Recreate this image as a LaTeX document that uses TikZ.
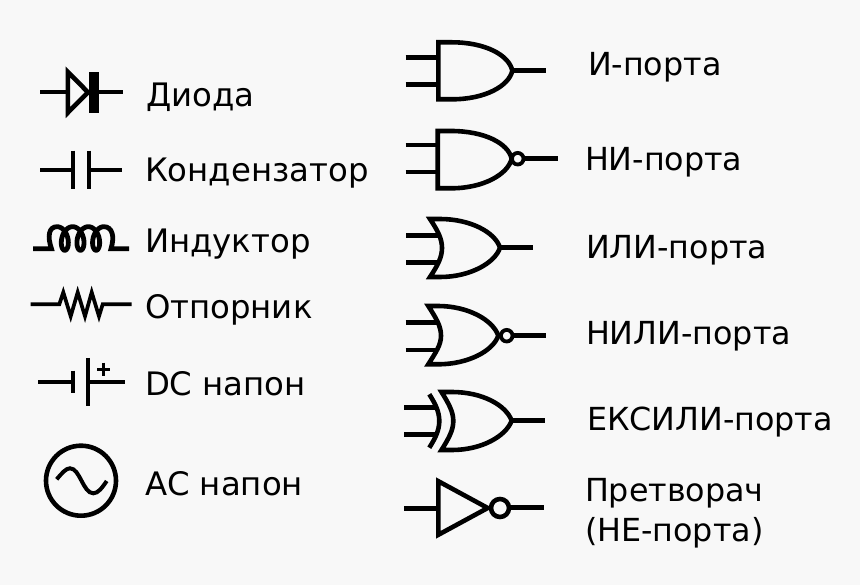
\documentclass[tikz,border=0pt]{standalone}
\usepackage{fontspec}
\setmainfont{DejaVu Sans}
\definecolor{bgc}{HTML}{F8F8F8}
\tikzset{
  x=1pt,y=-1pt,
  sym/.style={draw=black,line width=4.6pt,line join=miter,miter limit=20,fill=none},
  lab/.style={anchor=base west,inner sep=0pt,outer sep=0pt,font=\fontsize{32.35}{38}\selectfont,text=black},
  rab/.style={anchor=base west,inner sep=0pt,outer sep=0pt,font=\fontsize{31.75}{38}\selectfont,text=black},
}
\begin{document}
\begin{tikzpicture}
\fill[bgc] (0,0) rectangle (860,585);
\useasboundingbox (0,0) rectangle (860,585);
% labels
\node[lab] (l1) at (146,107) {Диода};
\node[lab] (l2) at (145,182) {Кондензатор};
\node[lab] (l3) at (145,253) {Индуктор};
\node[lab] (l4) at (145,319) {Отпорник};
\node[lab] (l5) at (145,395.5) {DC напон};
\node[lab] (l6) at (145,495) {АС напон};
\node[rab] (r1) at (588,75.5) {И-порта};
\node[rab] (r2) at (585,171) {НИ-порта};
\node[rab] (r3) at (586,258.5) {ИЛИ-порта};
\node[rab] (r4) at (586,345) {НИЛИ-порта};
\node[rab] (r5) at (587,431) {ЕКСИЛИ-порта};
\node[rab] (r6) at (585,501) {Претворач};
\node[rab] (r7) at (585,541) {(НЕ-порта)};
% diode
\draw[sym,line width=4.2pt] (40,92.3) -- (123.3,92.3);
\fill[bgc] (67.9,72) -- (67.9,112.6) -- (88,92.3) -- cycle;
\draw[sym] (67.9,72) -- (67.9,112.6) -- (88,92.3) -- cycle;
\fill[black] (89,72.3) rectangle (99,112.7);
% capacitor
\draw[sym,line width=4.2pt] (40,170) -- (72.7,170) (72.7,150.7) -- (72.7,189.3) (89.3,150.7) -- (89.3,189.3) (89.3,170) -- (121.7,170);
% inductor
\draw[sym,line width=4.8pt] (33,248.7) -- (51.5,248.7) .. controls (47,236) and (49,226.7) .. (57,226.7)
  -- plot[variable=\t,domain=0:1080,samples=130] ({57+\t/360*15.65+7*sin(\t)},{238.5-11.8*cos(\t)})
  .. controls (112,226.7) and (115,236) .. (111,248.7) -- (129,248.7);
% resistor
\draw[sym,line width=3.7pt] (30.7,304.3) -- (59.3,304.3) -- (63.3,292.3) -- (70.7,316.3) -- (77.7,292.3) -- (85,316.3) -- (91.7,292.3) -- (99,316.3) -- (102.7,304.3) -- (131.7,304.3);
% DC
\draw[sym,line width=4.2pt] (38.3,381.7) -- (73.3,381.7) (73.3,370.7) -- (73.3,393.3) (88,358) -- (88,406) (88,381.7) -- (125.3,381.7);
\draw[draw=black,line width=2.6pt] (97,369.3) -- (110.4,369.3) (103.7,362.6) -- (103.7,376);
% AC
\draw[sym] (81,480.7) circle[radius=35];
\draw[sym,line width=4pt] (56.7,479.3) .. controls (62,473) and (66,468.3) .. (70,468.3) .. controls (80,468.3) and (83,493.3) .. (93.3,493.3) .. controls (98,493.3) and (102,488) .. (106.7,481);
% AND
\draw[sym] (405.7,57.3) -- (438.3,57.3) (405.7,84.3) -- (438.3,84.3) (512.3,70.7) -- (546,70.7);
\draw[sym] (438.3,42.3) -- (452,42.3) .. controls (485,42.3) and (509,55) .. (512.3,70.7) .. controls (509,86) and (485,99.3) .. (452,99.3) -- (438.3,99.3) -- cycle;
% NAND
\draw[sym] (405.7,145) -- (437.7,145) (405.7,172) -- (437.7,172) (523.5,158.7) -- (557.7,158.7);
\draw[sym] (437.7,131) -- (451,131) .. controls (484,131) and (508,143) .. (511.7,158.7) .. controls (508,174) and (484,188.3) .. (451,188.3) -- (437.7,188.3) -- cycle;
\draw[sym,line width=3.8pt] (517.7,158.7) circle[radius=5.8];
% OR
\draw[sym] (406.3,235.7) -- (438,235.7) (406.3,262.7) -- (438,262.7) (500,247.7) -- (532.7,247.7);
\draw[sym] (430,219) -- (440,219) .. controls (470,219) and (495,232) .. (500,247.7) .. controls (495,263) and (470,277) .. (440,277) -- (430,277) .. controls (438,265) and (442,257) .. (442,248) .. controls (442,239) and (438,231) .. (430,219) -- cycle;
% NOR
\draw[sym] (405.7,322.7) -- (437.7,322.7) (405.7,350) -- (437.7,350) (512.7,335.7) -- (546,335.7);
\draw[sym] (428.3,306) -- (438,306) .. controls (468,306) and (493,320) .. (498.3,335.7) .. controls (493,351) and (468,364.3) .. (438,364.3) -- (428.3,364.3) .. controls (436,352) and (441,345) .. (441,335.7) .. controls (441,326) and (436,318) .. (428.3,306) -- cycle;
\draw[sym,line width=3.8pt] (506.7,335.7) circle[radius=5.8];
% XOR
\draw[sym] (404.3,407.3) -- (436,407.3) (404.3,434.3) -- (436,434.3) (511.7,420.7) -- (544.7,420.7);
\draw[sym] (429.3,394.3) .. controls (435.5,404) and (439.3,412) .. (439.3,421) .. controls (439.3,430) and (435.5,438) .. (429.3,447.7);
\draw[sym] (441.5,392) -- (452,392) .. controls (482,392) and (506,405) .. (511.7,420.7) .. controls (506,436) and (482,450) .. (452,450) -- (441.5,450) .. controls (449,438) and (453.3,430) .. (453.3,421) .. controls (453.3,412) and (449,404) .. (441.5,392) -- cycle;
% NOT
\draw[sym] (404,508.3) -- (438.3,508.3) (511,507.3) -- (544.3,507.3);
\draw[sym] (438.3,481.2) -- (438.3,534.8) -- (487.7,508) -- cycle;
\draw[sym] (500,508) circle[radius=9];
\end{tikzpicture}
\end{document}
